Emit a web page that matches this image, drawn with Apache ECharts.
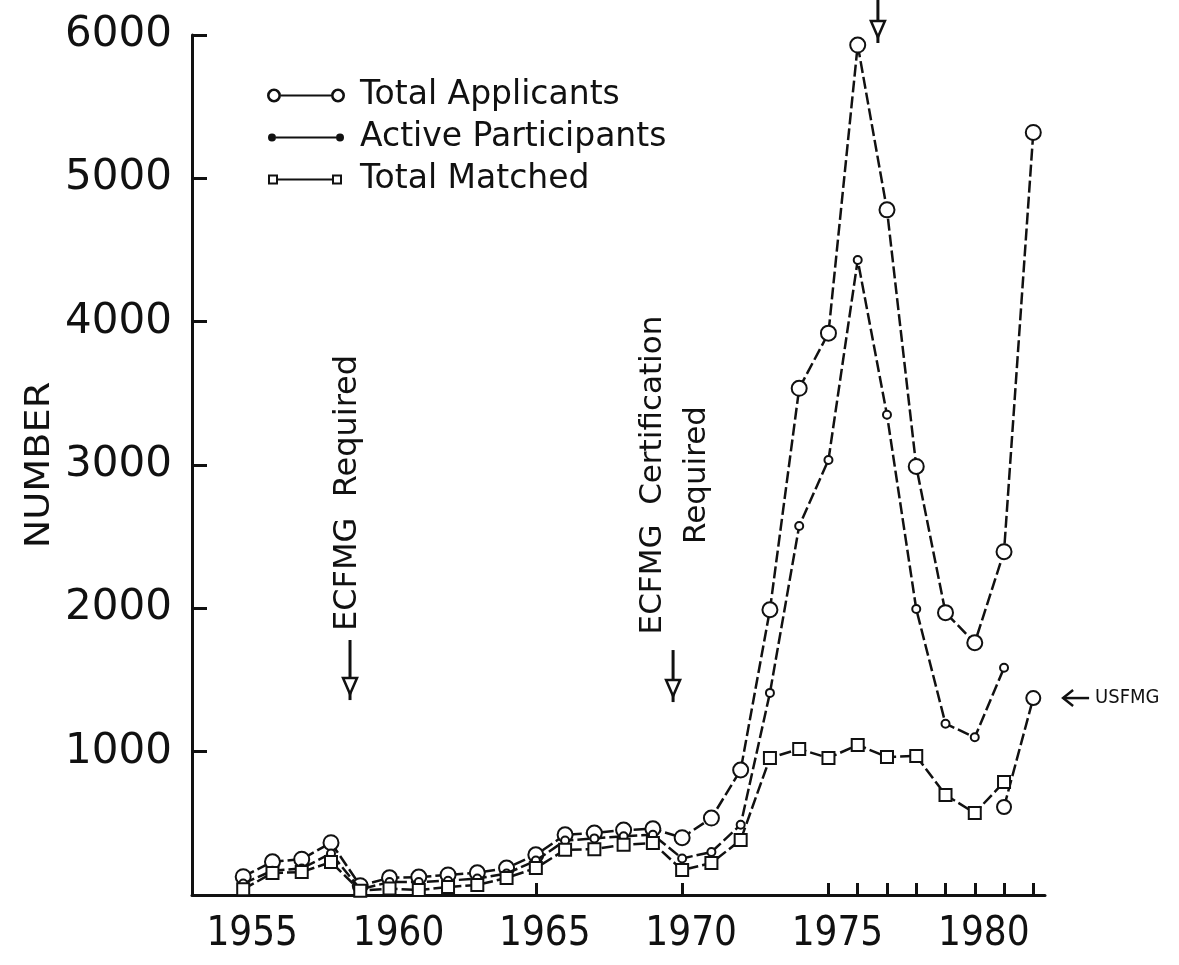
<!DOCTYPE html>
<html><head><meta charset="utf-8">
<script src="https://cdn.jsdelivr.net/npm/echarts@6/dist/echarts.min.js"></script>
<style>html,body{margin:0;padding:0;background:#fff}#c{width:1179px;height:965px}</style>
</head><body><div id="c"></div>
<script>
const years = [1955,1956,1957,1958,1959,1960,1961,1962,1963,1964,1965,1966,1967,1968,1969,1970,1971,1972,1973,1974,1975,1976,1977,1978,1979,1980,1981,1982];
const totalApplicants = [128,232,250,365,65,120,125,140,155,188,280,420,432,453,462,400,537,872,1990,3535,3920,5930,4780,2990,1970,1760,2395,5320];
const activeParticipants = [80,170,185,290,40,90,90,100,115,150,240,380,395,410,420,255,300,490,1410,2575,3035,4430,3350,1995,1195,1100,1585,null];
const totalMatched = [40,153,160,230,30,45,35,56,70,119,188,315,320,350,363,174,223,384,956,1019,956,1047,963,970,698,572,788,null];
const usfmgYears = [1981,1982];
const usfmgValues = [614,1374];
const xLabelYears = [1955,1960,1965,1970,1975,1980];
const xTickYears = [1965,1970,1975,1976,1977,1978,1979,1980,1981,1982];
const seriesNames = ['Total Applicants','Active Participants','Total Matched'];

const pair = (xs, vs) => xs.map((x, i) => [x, vs[i]]).filter(p => p[1] != null);

const bb = 'M1 1 M79 15 ';
const ringIcon = 'path://' + bb +
  'M1 8 A7 7 0 1 1 15 8 A7 7 0 1 1 1 8 Z M3.6 8 A4.4 4.4 0 1 0 12.4 8 A4.4 4.4 0 1 0 3.6 8 Z ' +
  'M15 7 L65 7 L65 9 L15 9 Z ' +
  'M65 8 A7 7 0 1 1 79 8 A7 7 0 1 1 65 8 Z M67.6 8 A4.4 4.4 0 1 0 76.4 8 A4.4 4.4 0 1 0 67.6 8 Z';
const dotIcon = 'path://' + bb +
  'M2 8 A4 4 0 1 1 10 8 A4 4 0 1 1 2 8 Z ' +
  'M10 7 L70 7 L70 9 L10 9 Z ' +
  'M70 8 A4 4 0 1 1 78 8 A4 4 0 1 1 70 8 Z';
const squareIcon = 'path://' + bb +
  'M2 3 L12 3 L12 13 L2 13 Z M4 5 L4 11 L10 11 L10 5 Z ' +
  'M12 7 L66 7 L66 9 L12 9 Z ' +
  'M66 3 L76 3 L76 13 L66 13 Z M68 5 L68 11 L74 11 L74 5 Z';

const ink = '#111';
const narrow = '"DejaVu Sans Condensed", "DejaVu Sans", sans-serif';
const lineStyle = {color: ink, width: 2.5, type: [12, 4]};

const chart = echarts.init(document.getElementById('c'), null, {renderer: 'canvas'});
chart.setOption({
  backgroundColor: '#fff',
  animation: false,
  grid: {left: 192, right: 134, top: 35, bottom: 70, containLabel: false, outerBoundsMode: 'none'},
  legend: {
    orient: 'vertical', left: 262, top: 74, itemWidth: 78, itemHeight: 14, itemGap: 9,
    textStyle: {fontFamily: 'DejaVu Sans', fontSize: 33, color: ink, padding: [0, 0, 0, 10]},
    itemStyle: {color: ink, borderWidth: 0},
    data: [
      {name: seriesNames[0], icon: ringIcon},
      {name: seriesNames[1], icon: dotIcon},
      {name: seriesNames[2], icon: squareIcon}
    ]
  },
  xAxis: {
    type: 'value', min: 1953.25, max: 1982.4,
    axisLine: {lineStyle: {color: ink, width: 3}},
    splitLine: {show: false},
    axisTick: {show: true, inside: true, length: 12, lineStyle: {color: ink, width: 3}, customValues: xTickYears},
    axisLabel: {customValues: xLabelYears, margin: 20, fontFamily: narrow, fontSize: 40, color: ink,
      padding: [0, 0, 0, 18], formatter: v => String(v)}
  },
  yAxis: {
    type: 'value', min: 0, max: 6000, interval: 1000,
    axisLine: {show: true, lineStyle: {color: ink, width: 3}},
    splitLine: {show: false},
    axisTick: {show: true, inside: true, length: 15, lineStyle: {color: ink, width: 3}},
    axisLabel: {margin: 20, fontFamily: 'DejaVu Sans', fontSize: 42, color: ink,
      formatter: v => v === 0 ? '' : String(v)}
  },
  series: [
    {name: seriesNames[0], type: 'line', data: pair(years, totalApplicants), symbol: 'emptyCircle', symbolSize: 15,
      itemStyle: {color: ink, borderWidth: 2.5}, lineStyle, z: 3},
    {name: seriesNames[1], type: 'line', data: pair(years, activeParticipants), symbol: 'emptyCircle', symbolSize: 8,
      itemStyle: {color: ink, borderWidth: 2.5}, lineStyle, z: 4},
    {name: seriesNames[2], type: 'line', data: pair(years, totalMatched), symbol: 'emptyRect', symbolSize: 12,
      itemStyle: {color: ink, borderWidth: 2.5}, lineStyle, z: 5},
    {name: 'USFMG', type: 'line', data: pair(usfmgYears, usfmgValues), symbol: 'emptyCircle', symbolSize: 14,
      itemStyle: {color: ink, borderWidth: 2.5}, lineStyle, z: 5}
  ]
});

// Annotations positioned through the chart's own scales
const px = (x, y) => chart.convertToPixel({gridIndex: 0}, [x, y]);
function downArrow(xv, y0v, y1v) {
  const a = px(xv, y0v), b = px(xv, y1v);
  return [
    {type: 'line', shape: {x1: a[0], y1: a[1], x2: b[0], y2: b[1]}, style: {stroke: ink, lineWidth: 3}, silent: true},
    {type: 'polygon', shape: {points: [[b[0] - 7, b[1] - 22], [b[0] + 7, b[1] - 22], [b[0], b[1] - 6]]}, style: {fill: '#fff', stroke: ink, lineWidth: 2.5}, silent: true}
  ];
}
const t1 = px(1958.58, 2805);
const t2 = px(1969.75, 2930);
const us = px(1982.95, 1374);
const g = [
  {type: 'text', x: 40, y: 465, rotation: Math.PI / 2, scaleX: 1.25,
    style: {text: 'NUMBER', font: '34px ' + narrow, fill: ink, align: 'center', verticalAlign: 'middle'}, silent: true},
  {type: 'text', x: t1[0], y: t1[1], rotation: Math.PI / 2,
    style: {text: 'ECFMG  Required', font: '32px "DejaVu Sans"', fill: ink, align: 'center', verticalAlign: 'middle'}, silent: true},
  {type: 'text', x: t2[0], y: t2[1], rotation: Math.PI / 2,
    style: {text: 'ECFMG  Certification\nRequired', font: '31px "DejaVu Sans"', lineHeight: 44, fill: ink, align: 'center', verticalAlign: 'middle'}, silent: true},
  {type: 'line', shape: {x1: us[0] + 28, y1: us[1], x2: us[0] + 2, y2: us[1]}, style: {stroke: ink, lineWidth: 2.5}, silent: true},
  {type: 'polyline', shape: {points: [[us[0] + 12, us[1] - 8], [us[0] + 2, us[1]], [us[0] + 12, us[1] + 8]]}, style: {stroke: ink, lineWidth: 2.5, fill: null}, silent: true},
  {type: 'text', x: us[0] + 34, y: us[1], style: {text: 'USFMG', font: '20px ' + narrow, fill: ink, align: 'left', verticalAlign: 'middle'}, silent: true}
].concat(downArrow(1958.65, 1779, 1360), downArrow(1969.69, 1709, 1346), downArrow(1976.69, 6244, 5944));
chart.setOption({graphic: g});
</script>
</body></html>
